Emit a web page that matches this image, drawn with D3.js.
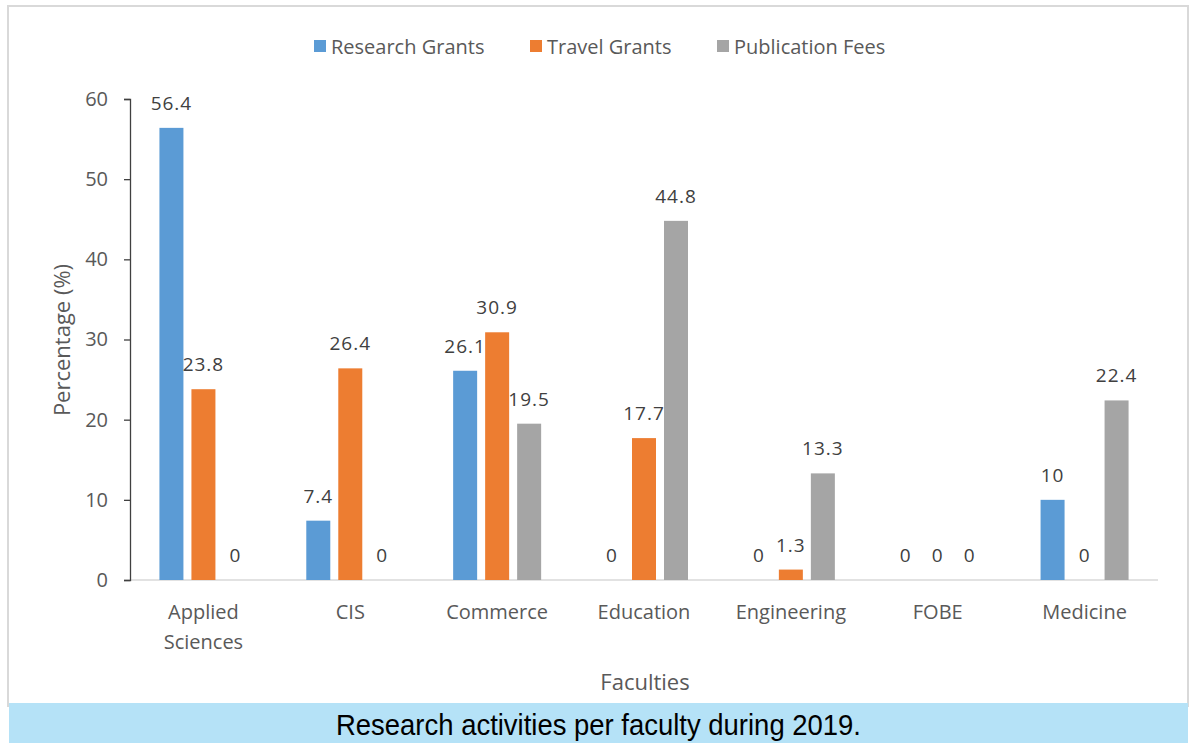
<!DOCTYPE html>
<html>
<head>
<meta charset="utf-8">
<script src="https://cdn.jsdelivr.net/npm/d3@7"></script>
<style>
  body { margin: 0; background: #fff; }
  svg { display: block; }
</style>
</head>
<body>
<svg id="chart" width="1191" height="743"></svg>
<script>
// chart data
let faculties = ["Applied Sciences", "CIS", "Commerce", "Education", "Engineering", "FOBE", "Medicine"];
let research_grants = [56.4, 7.4, 26.1, 0, 0, 0, 10];
let travel_grants = [23.8, 26.4, 30.9, 17.7, 1.3, 0, 0];
let publication_fees = [0, 0, 19.5, 44.8, 13.3, 0, 22.4];
let series_names = ["Research Grants", "Travel Grants", "Publication Fees"];
let series_colors = ["#5b9bd5", "#ed7d31", "#a5a5a5"];
let y_ticks = [0, 10, 20, 30, 40, 50, 60];
let caption = "Research activities per faculty during 2019.";

let svg = d3.select("#chart");
let font = "'Open Sans', Lato, sans-serif";
let margin = { left: 130, right: 1158, top: 99, bottom: 580 };

// outer frame
svg.append("rect")
  .attr("x", 8).attr("y", 6)
  .attr("width", 1180).attr("height", 700)
  .attr("fill", "#fff")
  .attr("stroke", "#d9d9d9").attr("stroke-width", 2);

// caption band
svg.append("rect")
  .attr("x", 9).attr("y", 703)
  .attr("width", 1179).attr("height", 40)
  .attr("fill", "#b5e2f7");
svg.append("text")
  .attr("x", 336).attr("y", 735)
  .attr("textLength", 525).attr("lengthAdjust", "spacingAndGlyphs")
  .style("font-family", "'Liberation Sans Narrow', 'Liberation Sans', sans-serif")
  .style("font-size", "30px")
  .attr("fill", "#000")
  .text(caption);

let x = d3.scaleBand().domain(faculties).range([margin.left, margin.right]);
let xs = d3.scaleBand().domain(series_names).range([-44, 44]).paddingInner(0.25);
let y = d3.scaleLinear().domain([0, 60]).range([margin.bottom, margin.top]);

// x axis baseline
svg.append("line")
  .attr("x1", margin.left).attr("x2", margin.right)
  .attr("y1", y(0)).attr("y2", y(0))
  .attr("stroke", "#d9d9d9").attr("stroke-width", 1.5);

// y axis
let yAxis = svg.append("g")
  .attr("transform", "translate(" + margin.left + ",0)")
  .call(d3.axisLeft(y).tickValues(y_ticks).tickSize(6).tickPadding(16));
yAxis.select(".domain").attr("stroke", "#404040").attr("stroke-width", 1.3);
yAxis.selectAll(".tick line").attr("stroke", "#404040").attr("stroke-width", 1.3);
yAxis.selectAll(".tick text")
  .style("font-family", font).style("font-size", "20px").attr("fill", "#595959");

// bars + data labels
let all_series = [research_grants, travel_grants, publication_fees];
all_series.forEach(function(vals, si) {
  let g = svg.append("g");
  g.selectAll("rect").data(vals).enter().append("rect")
    .attr("x", (d, i) => x(faculties[i]) + x.bandwidth() / 2 + xs(series_names[si]))
    .attr("y", d => y(d))
    .attr("width", xs.bandwidth())
    .attr("height", d => y(0) - y(d))
    .attr("fill", series_colors[si]);
  g.selectAll("text").data(vals).enter().append("text")
    .attr("x", (d, i) => x(faculties[i]) + x.bandwidth() / 2 + xs(series_names[si]) + xs.bandwidth() / 2)
    .attr("y", d => y(d) - 18)
    .attr("text-anchor", "middle")
    .style("font-family", font).style("font-size", "19px")
    .style("letter-spacing", "1px")
    .attr("fill", "#404040")
    .text(d => d);
});

// category labels
faculties.forEach(function(f) {
  let words = f.split(" ");
  let t = svg.append("text")
    .attr("x", x(f) + x.bandwidth() / 2)
    .attr("y", 619)
    .attr("text-anchor", "middle")
    .style("font-family", font).style("font-size", "20px")
    .attr("fill", "#595959");
  words.forEach(function(w, i) {
    t.append("tspan").attr("x", x(f) + x.bandwidth() / 2).attr("dy", i ? 30 : 0).text(w);
  });
});

// axis titles
svg.append("text")
  .attr("x", 645).attr("y", 690)
  .attr("text-anchor", "middle")
  .style("font-family", font).style("font-size", "22px")
  .attr("fill", "#595959")
  .text("Faculties");
svg.append("text")
  .attr("transform", "translate(70,340) rotate(-90)")
  .attr("text-anchor", "middle")
  .style("font-family", font).style("font-size", "22px")
  .attr("fill", "#595959")
  .text("Percentage (%)");

// legend
let legend_x = [314, 530, 717];
series_names.forEach(function(s, i) {
  svg.append("rect")
    .attr("x", legend_x[i]).attr("y", 40)
    .attr("width", 12).attr("height", 12)
    .attr("fill", series_colors[i]);
  svg.append("text")
    .attr("x", legend_x[i] + 17).attr("y", 54)
    .style("font-family", font).style("font-size", "20px")
    .attr("fill", "#595959")
    .text(s);
});
</script>
</body>
</html>
